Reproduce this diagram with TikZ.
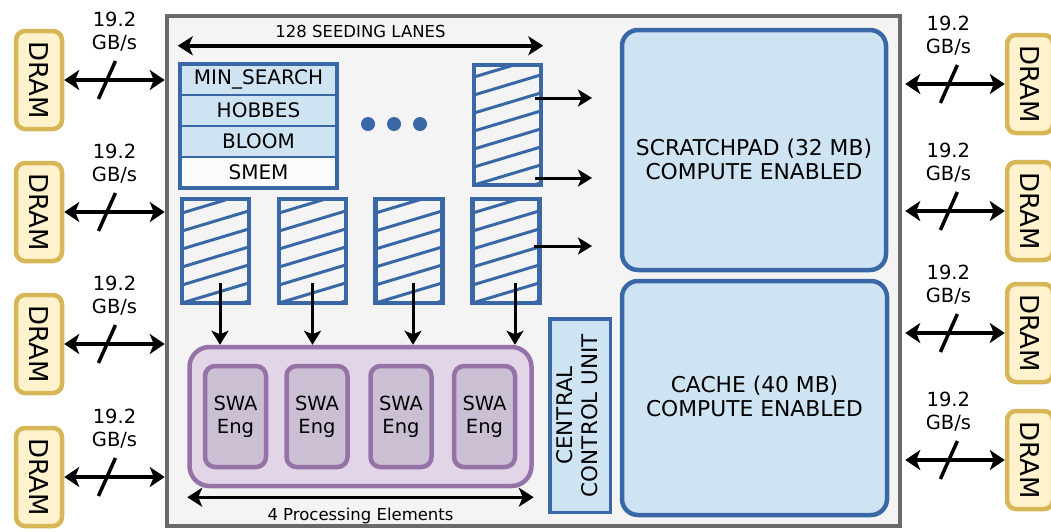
\documentclass[tikz,border=0pt]{standalone}
\usepackage{graphicx}
\usepackage{fontspec}
\setmainfont{DejaVu Sans}
\usetikzlibrary{arrows.meta,positioning,fit}

\definecolor{chipgray}{HTML}{6A6A6A}
\definecolor{chipfill}{HTML}{F4F4F4}
\definecolor{laneblue}{HTML}{3A68A6}
\definecolor{lanefill}{HTML}{CFE4F3}
\definecolor{dramline}{HTML}{D6B656}
\definecolor{dramfill}{HTML}{FFF2CC}
\definecolor{peline}{HTML}{9673A6}
\definecolor{pefill}{HTML}{E1D5E7}
\definecolor{swafill}{HTML}{CBBFD3}

\tikzset{
  chip/.style={draw=chipgray, fill=chipfill, line width=4.5pt, minimum width=733pt, minimum height=510pt},
  dram/.style={draw=dramline, fill=dramfill, line width=4.5pt, rounded corners=9pt, minimum width=46pt,
    minimum height=98pt, inner sep=0pt, font=\fontsize{26}{28}\selectfont},
  bus/.style={line width=3.5pt, {Stealth[length=15pt,width=20pt,inset=4pt]}-{Stealth[length=15pt,width=20pt,inset=4pt]}},
  busslash/.style={line width=3.5pt},
  rate/.style={align=center, inner sep=0pt, font=\fontsize{19.5}{23}\selectfont},
  rowbox/.style={draw=laneblue, line width=2.5pt, minimum width=157pt, minimum height=31pt, inner sep=0pt,
    outer sep=0pt, font=\fontsize{20}{23}\selectfont},
  stackframe/.style={draw=laneblue, line width=4.5pt, inner sep=0pt},
  seed/.style={draw=laneblue, line width=4.5pt, minimum width=67pt, minimum height=104pt, inner sep=0pt,
    path picture={\foreach \k in {-3,...,9}{
      \draw[laneblue, line width=3pt] ([yshift=\k*18pt]path picture bounding box.south west) -- ++(80pt,24pt);}}},
  lanedot/.style={circle, fill=laneblue, minimum size=14pt, inner sep=0pt},
  feed/.style={line width=3pt, -{Stealth[length=14pt,width=17pt,inset=3.5pt]}},
  dimarrow/.style={line width=3.5pt, {Stealth[length=15pt,width=19pt,inset=4pt]}-{Stealth[length=15pt,width=19pt,inset=4pt]}},
  dimlabel/.style={inner sep=0pt, font=\fontsize{16.5}{19}\selectfont},
  pe/.style={draw=peline, fill=pefill, line width=4.5pt, rounded corners=20pt, minimum width=342pt, minimum height=139pt},
  swa/.style={draw=peline, fill=swafill, line width=4.5pt, rounded corners=10pt, minimum width=61pt,
    minimum height=101pt, inner sep=0pt, align=center, font=\fontsize{19.5}{23}\selectfont},
  memory/.style={draw=laneblue, fill=lanefill, line width=4.5pt, rounded corners=16pt,
    font=\fontsize{21.8}{24}\selectfont},
  ccu/.style={draw=laneblue, fill=lanefill, line width=3.5pt, minimum width=60.5pt, minimum height=193.5pt,
    inner sep=0pt, font=\fontsize{21.5}{25}\selectfont}
}

\begin{document}
\begin{tikzpicture}[x=1pt,y=-1pt]
  \useasboundingbox (0,0) rectangle (1051,531);

  % accelerator chip
  \node[chip] (chip) at (533.5,271) {};

  % DRAM channels on both sides
  \foreach \y [count=\i] in {80,212,344,477}{
    \node[dram] (dl\i) at (39,\y) {\rotatebox{-90}{DRAM}};
    \draw[bus] (dl\i) -- coordinate[pos=.42] (sl\i) coordinate[pos=.5] (tl\i) (dl\i -| chip.west);
    \draw[busslash] ([shift={(-8,19)}]sl\i) -- ([shift={(9,-19)}]sl\i);
    \node[rate] (rl\i) at ([yshift=48pt]tl\i) {19.2\\GB/s};
  }
  \foreach \y [count=\i] in {84,211,333,460}{
    \node[dram] (dr\i) at (1030,\y) {\rotatebox{-90}{DRAM}};
    \draw[bus, shorten <=3pt] (dr\i -| chip.east) -- coordinate[pos=.45] (sr\i) (dr\i);
    \draw[busslash] ([shift={(-8,19)}]sr\i) -- ([shift={(9,-19)}]sr\i);
    \node[rate] (rr\i) at ([yshift=48pt]sr\i) {19.2\\GB/s};
  }

  % seeding lanes
  \node[rowbox, fill=lanefill] (minsearch) at (258.5,79.5) {MIN\_SEARCH};
  \node[rowbox, fill=lanefill, below=0pt of minsearch] (hobbes) {HOBBES};
  \node[rowbox, fill=lanefill, below=0pt of hobbes] (bloom) {BLOOM};
  \node[rowbox, fill=white!60!chipfill, below=0pt of bloom] (smem) {SMEM};
  \node[stackframe, fit=(minsearch)(smem)] (stack) {};

  \node[lanedot] (dot1) at (368,124) {};
  \node[lanedot] (dot2) at (394,124) {};
  \node[lanedot] (dot3) at (420,124) {};

  \node[seed, minimum height=120pt] (seedtop) at (507.5,125) {};
  \foreach \x [count=\i] in {215.5,312.5,409,506}{
    \node[seed] (s\i) at (\x,251) {};
  }

  \draw[dimarrow] ([yshift=16pt]stack.north west) -- node[dimlabel, above=6pt] (lanes) {128 SEEDING LANES}
    ([yshift=16pt]stack.north west -| seedtop.east);

  % outputs towards scratchpad
  \coordinate (o1) at (592,98);
  \coordinate (o2) at (592,178);
  \coordinate (o3) at (592,246);
  \draw[feed] ([xshift=-8pt]seedtop.east |- o1) -- (o1);
  \draw[feed] ([xshift=-8pt]seedtop.east |- o2) -- (o2);
  \draw[feed] ([xshift=-8pt]s4.east |- o3) -- (o3);

  % processing elements
  \node[pe] (pe) at (360.5,416.5) {};
  \foreach \x/\dx [count=\i] in {235.5/4.5,317/0,401/4,484.5/9}{
    \node[swa] (w\i) at (\x,416.5) {SWA\\Eng};
    \coordinate (f\i) at ([xshift=\dx pt, yshift=-32pt]s\i.center);
    \draw[feed] (f\i) -- (f\i |- pe.north);
  }
  \draw[dimarrow] ([yshift=-9pt]pe.south west) -- node[dimlabel, below=9pt] (pes) {4 Processing Elements}
    ([yshift=-9pt]pe.south east);

  % memories and control
  \node[memory, minimum width=264pt, minimum height=240pt] (scratch) at (754,150)
    {\raisebox{-13pt}[\height][\depth]{\begin{tabular}{@{}c@{}}SCRATCHPAD (32 MB)\\COMPUTE ENABLED\end{tabular}}};
  \node[memory, minimum width=265pt, minimum height=234pt] (cache) at (754.5,398)
    {\raisebox{-2pt}[\height][\depth]{\begin{tabular}{@{}c@{}}CACHE (40 MB)\\COMPUTE ENABLED\end{tabular}}};
  \node[ccu] (ccu) at (580,415.5)
    {\rotatebox{90}{\begin{tabular}{@{}c@{}}CENTRAL\\CONTROL UNIT\end{tabular}}};
\end{tikzpicture}
\end{document}
